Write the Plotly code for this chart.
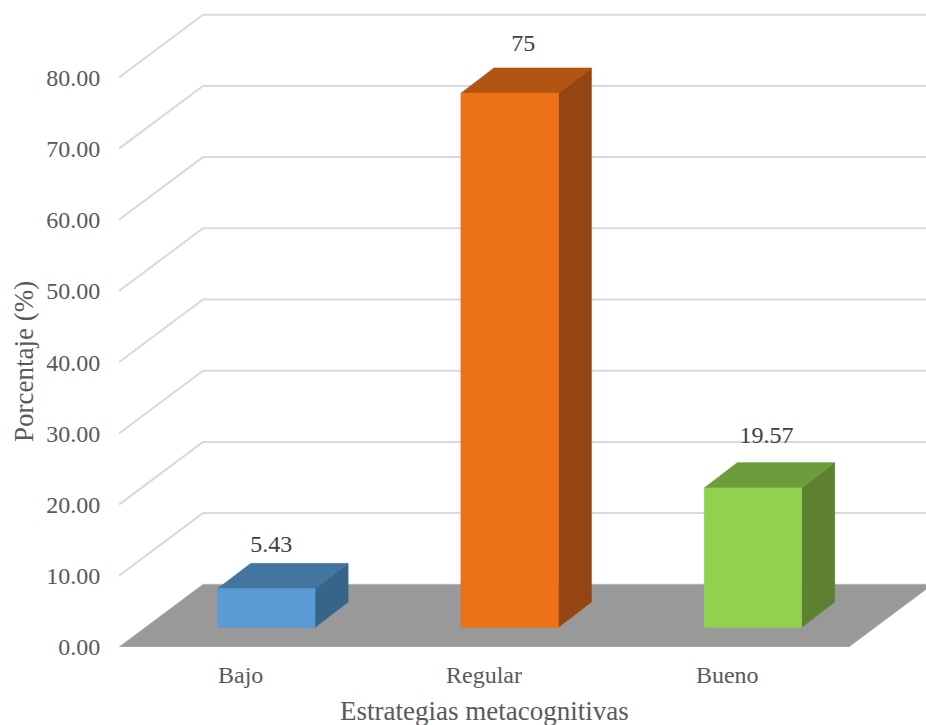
import plotly.graph_objects as go

# Data
categories = ["Bajo", "Regular", "Bueno"]
values = [5.43, 75, 19.57]
value_labels = ["5.43", "75", "19.57"]
y_ticks = [0, 10, 20, 30, 40, 50, 60, 70, 80]
y_tick_labels = ["0.00", "10.00", "20.00", "30.00", "40.00", "50.00", "60.00", "70.00", "80.00"]
x_title = "Estrategias metacognitivas"
y_title = "Porcentaje (%)"

# Oblique-projection constants, in axis units
PX_PER_VALUE = 7.12
PX_PER_CAT = 243.3
PLOT_W, PLOT_H = 807, 647
X_MIN = -0.5
X_MAX = X_MIN + PLOT_W / PX_PER_CAT
Y_MAX = PLOT_H / PX_PER_VALUE
FLOOR_DX = 84 / PX_PER_CAT
FLOOR_DY = 62.7 / PX_PER_VALUE
BAR_DX = 33 / PX_PER_CAT
BAR_DY = 25.2 / PX_PER_VALUE
BAR_SHIFT_X = 25.7 / PX_PER_CAT
BAR_SHIFT_Y = 19.7 / PX_PER_VALUE
BAR_HALF = 0.2
LABEL_GAP = [2.5, 3.3, 3.6]
LABEL_DX = [0.02, 0.056, 0.056]

front_colors = ["#5b9bd5", "#ed7117", "#92d050"]
top_colors = ["#4475a0", "#b25412", "#6d9c3c"]
side_colors = ["#39648a", "#934611", "#5e8131"]
GRID = "#d9d9d9"
FLOOR = "#999999"
SERIF = "Liberation Serif"

fig = go.Figure()


def poly(xs, ys, color, line=None):
    fig.add_trace(go.Scatter(
        x=xs + xs[:1], y=ys + ys[:1], mode="lines", fill="toself",
        fillcolor=color, line=dict(color=line or color, width=0.75),
        hoverinfo="skip", showlegend=False))


# Wall + side gridlines
gx, gy = [], []
for v in y_ticks[1:]:
    gx += [X_MIN, X_MIN + FLOOR_DX, X_MAX, None]
    gy += [v, v + FLOOR_DY, v + FLOOR_DY, None]
fig.add_trace(go.Scatter(x=gx, y=gy, mode="lines", line=dict(color=GRID, width=2),
                         hoverinfo="skip", showlegend=False))

# Floor
fx0, fx1 = X_MIN, X_MIN + len(categories)
poly([fx0, fx1, fx1 + FLOOR_DX, fx0 + FLOOR_DX], [0, 0, FLOOR_DY, FLOOR_DY], FLOOR, "#b5b5b5")

# Bars
for i, v in enumerate(values):
    x0 = i - BAR_HALF + BAR_SHIFT_X
    x1 = i + BAR_HALF + BAR_SHIFT_X
    y0 = BAR_SHIFT_Y
    y1 = BAR_SHIFT_Y + v
    poly([x1, x1 + BAR_DX, x1 + BAR_DX, x1], [y0, y0 + BAR_DY, y1 + BAR_DY, y1], side_colors[i])
    poly([x0, x1, x1 + BAR_DX, x0 + BAR_DX], [y1, y1, y1 + BAR_DY, y1 + BAR_DY], top_colors[i])
    poly([x0, x1, x1, x0], [y0, y0, y1, y1], front_colors[i])

# Data labels
fig.add_trace(go.Scatter(
    x=[i + BAR_SHIFT_X + LABEL_DX[i] for i in range(len(values))],
    y=[v + BAR_SHIFT_Y + BAR_DY + LABEL_GAP[i] for i, v in enumerate(values)],
    mode="text", text=value_labels, textposition="middle center",
    textfont=dict(family=SERIF, size=24, color="#404040"),
    hoverinfo="skip", showlegend=False))

title_font = dict(family=SERIF, size=27, color="#595959")

fig.update_layout(
    width=926, height=725, autosize=False,
    margin=dict(l=119, r=0, t=0, b=78),
    paper_bgcolor="white", plot_bgcolor="white",
    showlegend=False,
    font=dict(family=SERIF, color="#595959"),
    xaxis=dict(
        range=[X_MIN, X_MAX], tickmode="array", tickvals=list(range(len(categories))),
        ticktext=categories, showgrid=False, zeroline=False, showline=False,
        ticks="outside", ticklen=6, tickcolor="rgba(0,0,0,0)", automargin=False,
        tickfont=dict(family=SERIF, size=24, color="#595959"),
    ),
    yaxis=dict(
        range=[0, Y_MAX], tickmode="array", tickvals=y_ticks, ticktext=y_tick_labels,
        showgrid=False, zeroline=False, showline=False,
        ticks="outside", ticklen=13, tickcolor="rgba(0,0,0,0)", automargin=False,
        tickfont=dict(family=SERIF, size=24, color="#595959"),
    ),
    annotations=[
        dict(text=x_title, xref="paper", yref="paper", x=0.4529, y=-0.0989,
             xanchor="center", yanchor="middle", showarrow=False, font=title_font),
        dict(text=y_title, xref="paper", yref="paper", x=-0.1177, y=0.4405, textangle=-90,
             xanchor="center", yanchor="middle", showarrow=False, font=title_font),
    ],
)

fig.write_html("out.html", config={"displayModeBar": False},
               post_script="document.body.style.margin='0';document.documentElement.style.overflow='hidden';")
